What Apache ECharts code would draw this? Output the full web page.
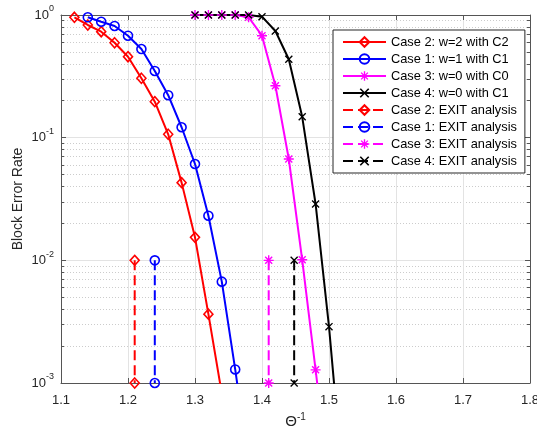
<!DOCTYPE html>
<html>
<head>
<meta charset="utf-8">
<script src="https://cdn.jsdelivr.net/npm/echarts@6/dist/echarts.min.js"></script>
<style>
  html, body { margin: 0; padding: 0; background: #fff; }
  #chart { width: 537px; height: 430px; }
</style>
</head>
<body>
<div id="chart"></div>
<script>
// Block error rate versus inverse threshold, simulated and EXIT predictions
const theta2 = [1.12, 1.14, 1.16, 1.18, 1.20, 1.22, 1.24, 1.26, 1.28, 1.30, 1.32, 1.34];
const ber2   = [0.958, 0.829, 0.731, 0.594, 0.457, 0.305, 0.1965, 0.1066, 0.043, 0.0154, 0.00364, 0.00082];

const theta1 = [1.14, 1.16, 1.18, 1.20, 1.22, 1.24, 1.26, 1.28, 1.30, 1.32, 1.34, 1.36, 1.38];
const ber1   = [0.958, 0.882, 0.814, 0.678, 0.528, 0.350, 0.222, 0.1216, 0.0610, 0.0231, 0.0067, 0.00129, 0.00022];

const theta3 = [1.30, 1.32, 1.34, 1.36, 1.38, 1.40, 1.42, 1.44, 1.46, 1.48, 1.50];
const ber3   = [1, 1, 1, 1, 0.958, 0.678, 0.265, 0.067, 0.0101, 0.00128, 0.00016];

const theta4 = [1.30, 1.32, 1.34, 1.36, 1.38, 1.40, 1.42, 1.44, 1.46, 1.48, 1.50, 1.52];
const ber4   = [1, 1, 1, 1, 1, 0.969, 0.741, 0.436, 0.148, 0.0288, 0.00288, 0.00017];

// EXIT analysis thresholds (Case 2, Case 1, Case 3, Case 4), drawn as vertical segments
const exitTheta = [1.21, 1.24, 1.41, 1.448];
const exitBer   = [1e-2, 1e-3];

const curveNames = ['Case 2: w=2 with C2', 'Case 1: w=1 with C1', 'Case 3: w=0 with C0', 'Case 4: w=0 with C1'];
const exitNames  = ['Case 2: EXIT analysis', 'Case 1: EXIT analysis', 'Case 3: EXIT analysis', 'Case 4: EXIT analysis'];

const xTicks = [1.1, 1.2, 1.3, 1.4, 1.5, 1.6, 1.7, 1.8];
const yMinorTicks = [0.002, 0.003, 0.004, 0.005, 0.006, 0.007, 0.008, 0.009,
                     0.02, 0.03, 0.04, 0.05, 0.06, 0.07, 0.08, 0.09,
                     0.2, 0.3, 0.4, 0.5, 0.6, 0.7, 0.8, 0.9];

const colors = ['#ff0000', '#0000ff', '#ff00ff', '#000000'];

const starPath = 'path://M43,0L57,0L57,100L43,100Z M0,43L100,43L100,57L0,57Z ' +
  'M19.9,10.1L89.9,80.1L80.1,89.9L10.1,19.9Z M80.1,10.1L89.9,19.9L19.9,89.9L10.1,80.1Z';
const crossPath = 'path://M0,12L12,0L100,88L88,100Z M88,0L100,12L12,100L0,88Z';

const markers = [
  { symbol: 'diamond', size: [9, 10], filled: false },
  { symbol: 'circle', size: 9, filled: false },
  { symbol: starPath, size: 10, filled: true },
  { symbol: crossPath, size: 8, filled: true }
];

const FONT = '"Liberation Sans", Arial, sans-serif';
const TXT = '#262626';
const AXC = '#555555';

function pairs(xs, ys) { return xs.map((x, i) => [x, ys[i]]); }

function markerStyle(i) {
  const m = markers[i];
  return m.filled
    ? { color: colors[i], borderWidth: 0 }
    : { color: 'rgba(255,255,255,0)', borderColor: colors[i], borderWidth: 1.6 };
}

const curves = [[theta2, ber2], [theta1, ber1], [theta3, ber3], [theta4, ber4]];

const series = [];
curves.forEach(([xs, ys], i) => {
  series.push({
    name: curveNames[i],
    type: 'line',
    xAxisIndex: 0, yAxisIndex: 0,
    data: pairs(xs, ys),
    clip: true,
    symbol: markers[i].symbol,
    symbolSize: markers[i].size,
    showAllSymbol: true,
    lineStyle: { color: colors[i], width: 2 },
    itemStyle: markerStyle(i),
    emphasis: { disabled: true },
    animation: false
  });
});
exitTheta.forEach((t, i) => {
  series.push({
    name: exitNames[i],
    type: 'line',
    xAxisIndex: 0, yAxisIndex: 0,
    data: exitBer.map(b => [t, b]),
    clip: false,
    symbol: markers[i].symbol,
    symbolSize: markers[i].size,
    lineStyle: { color: colors[i], width: 2, type: [10, 5] },
    itemStyle: markerStyle(i),
    emphasis: { disabled: true },
    animation: false
  });
});

const gridRect = { left: 61, right: 7, top: 15, bottom: 47, outerBoundsMode: 'none', containLabel: false };

const option = {
  backgroundColor: '#ffffff',
  animation: false,
  textStyle: { fontFamily: FONT, color: TXT },
  grid: [Object.assign({}, gridRect), Object.assign({}, gridRect)],
  legend: {
    orient: 'vertical',
    left: 333, top: 30,
    padding: [5, 8, 5, 9],
    itemWidth: 43, itemHeight: 12, itemGap: 3,
    backgroundColor: '#ffffff',
    borderColor: '#262626', borderWidth: 1,
    textStyle: { fontFamily: FONT, fontSize: 12.8, color: '#000', lineHeight: 14 },
    data: curveNames.concat(exitNames),
    selectedMode: false
  },
  xAxis: [
    {
      gridIndex: 0, type: 'value', position: 'bottom',
      min: 1.1, max: 1.8, interval: 0.1,
      name: '{t|Θ}{s|-1}', nameLocation: 'middle', nameGap: 29,
      nameMoveOverlap: false,
      nameTextStyle: {
        rich: {
          t: { fontFamily: FONT, fontSize: 15, color: TXT },
          s: { fontFamily: FONT, fontSize: 10, color: TXT, padding: [0, 0, 9, 0] }
        }
      },
      axisLine: { show: true, lineStyle: { color: AXC, width: 1 } },
      axisTick: { show: true, inside: true, length: 5, lineStyle: { color: AXC } },
      axisLabel: { fontFamily: FONT, fontSize: 13, color: TXT, margin: 11,
                   formatter: v => v.toFixed(1) },
      splitLine: { show: true, lineStyle: { color: '#e3e3e3', width: 1 } }
    },
    {
      gridIndex: 0, type: 'value', position: 'top',
      min: 1.1, max: 1.8, interval: 0.1,
      axisLine: { show: true, lineStyle: { color: AXC, width: 1 } },
      axisTick: { show: true, inside: true, length: 5, lineStyle: { color: AXC } },
      axisLabel: { show: false },
      splitLine: { show: false }
    },
    {
      gridIndex: 1, type: 'value', position: 'bottom',
      min: 1.1, max: 1.8, interval: 0.1,
      show: false
    }
  ],
  yAxis: [
    {
      gridIndex: 0, type: 'log', logBase: 10, position: 'left',
      min: 0.001, max: 1,
      name: 'Block Error Rate', nameLocation: 'middle', nameGap: 36,
      nameMoveOverlap: false,
      nameTextStyle: { fontFamily: FONT, fontSize: 14, color: TXT },
      axisLine: { show: true, lineStyle: { color: AXC, width: 1 } },
      axisTick: { show: true, inside: true, length: 5, lineStyle: { color: AXC } },
      axisLabel: {
        margin: 7,
        formatter: v => '{b|10}{s|' + Math.round(Math.log10(v)) + '}',
        rich: {
          b: { fontFamily: FONT, fontSize: 13, color: TXT },
          s: { fontFamily: FONT, fontSize: 9, color: TXT, padding: [0, 0, 12, 0] }
        }
      },
      splitLine: { show: true, lineStyle: { color: '#e3e3e3', width: 1 } }
    },
    {
      gridIndex: 0, type: 'log', logBase: 10, position: 'right',
      min: 0.001, max: 1,
      axisLine: { show: true, lineStyle: { color: AXC, width: 1 } },
      axisTick: { show: true, inside: true, length: 3, customValues: yMinorTicks, lineStyle: { color: AXC } },
      axisLabel: { show: false },
      splitLine: { show: true, lineStyle: { color: '#cccccc', width: 1, type: [1, 2] } }
    },
    {
      gridIndex: 1, type: 'log', logBase: 10, position: 'left',
      min: 0.001, max: 1,
      axisLine: { show: false },
      axisTick: { show: true, inside: true, length: 3, customValues: yMinorTicks, lineStyle: { color: AXC } },
      axisLabel: { show: false },
      splitLine: { show: false }
    },
    {
      gridIndex: 1, type: 'log', logBase: 10, position: 'right',
      min: 0.001, max: 1,
      axisLine: { show: false },
      axisTick: { show: true, inside: true, length: 5, lineStyle: { color: AXC } },
      axisLabel: { show: false },
      splitLine: { show: false }
    }
  ],
  series: series
};

const chart = echarts.init(document.getElementById('chart'), null, { renderer: 'canvas' });
chart.setOption(option);
</script>
</body>
</html>
